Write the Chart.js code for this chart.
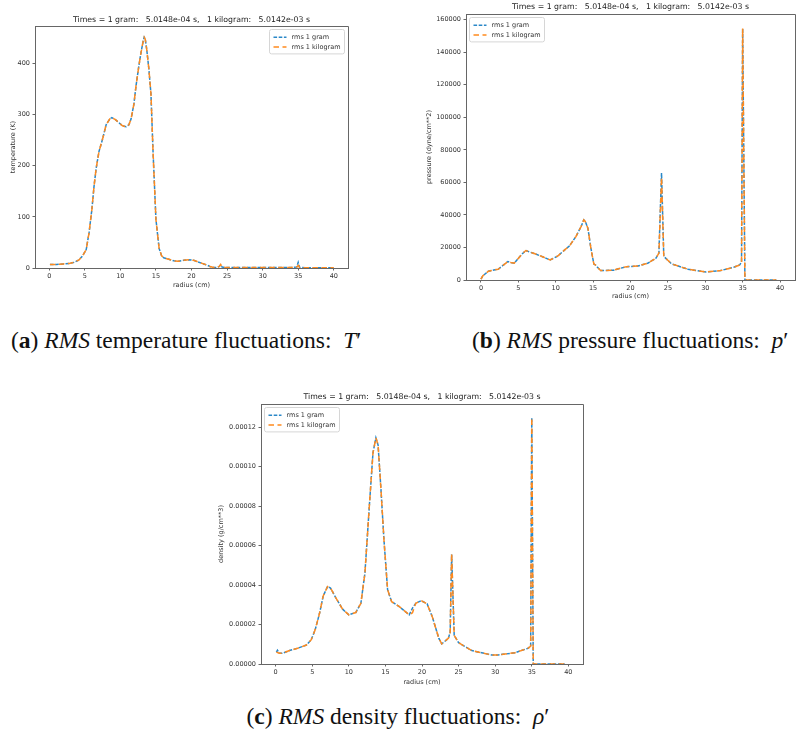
<!DOCTYPE html>
<html>
<head>
<meta charset="utf-8">
<script src="https://cdn.jsdelivr.net/npm/chart.js@4.4.0/dist/chart.umd.min.js"></script>
<style>
    body { margin: 0; background: #fff; }
    #page { position: relative; width: 796px; height: 742px; overflow: hidden; background: #fff; }
    canvas { position: absolute; }
    .caption {
        position: absolute;
        font-family: "Liberation Serif", "DejaVu Serif", serif;
        font-size: 23.5px;
        line-height: 24px;
        color: #111;
        white-space: nowrap;
    }
</style>
</head>
<body>
<div id="page">
    <canvas id="temperature-chart" width="400" height="300" style="left:0px;top:0px"></canvas>
    <canvas id="pressure-chart" width="396" height="300" style="left:400px;top:0px"></canvas>
    <canvas id="density-chart" width="400" height="310" style="left:200px;top:380px"></canvas>
    <div class="caption" style="left:11px;top:328px">(<b>a</b>) <i>RMS</i> temperature fluctuations:&nbsp; <i>T</i>′</div>
    <div class="caption" style="left:472px;top:328px">(<b>b</b>) <i>RMS</i> pressure fluctuations:&nbsp; <i>p</i>′</div>
    <div class="caption" style="left:398px;top:704px;transform:translateX(-50%)">(<b>c</b>) <i>RMS</i> density fluctuations:&nbsp; <i>ρ</i>′</div>
</div>
<script>
const timesTitle = "Times = 1 gram:   5.0148e-04 s,   1 kilogram:   5.0142e-03 s";
const seriesLabels = ["rms 1 gram", "rms 1 kilogram"];
const radiusTicks = [0, 5, 10, 15, 20, 25, 30, 35, 40];

// temperature (K)
const tempRadius = [0.1, 1.0, 2.0, 2.8, 3.5, 4.2, 4.7, 5.2, 5.6, 6.0, 6.3, 6.6, 7.0, 7.5, 8.0, 8.5, 8.8, 9.3, 9.8, 10.3, 10.8, 11.2, 11.5, 11.9, 12.2, 12.6, 12.9, 13.2, 13.35, 13.5, 13.7, 14.0, 14.3, 14.6, 15.0, 15.45, 15.8, 16.1, 16.8, 17.5, 18.2, 18.9, 19.6, 20.3, 20.9, 21.5, 22.1, 22.6, 23.1, 23.6, 23.9, 24.1, 24.3, 24.7, 26.0, 30.0, 34.0, 34.8, 35.0, 35.2, 36.0, 40.0];
const tempGram = [7, 7, 8, 9, 11, 16, 24, 36, 69, 115, 160, 195, 228, 252, 280, 291, 294, 290, 284, 278, 276, 280, 291, 320, 356, 395, 421, 443, 451, 447, 428, 390, 340, 225, 95, 38, 24, 20, 17, 14, 13, 15, 16, 15, 12, 9, 6, 3, 1, 1, 3, 6, 2, 1, 1, 1, 1, 2, 11, 1, 0.5, 0.5];
const tempKilogram = [7, 7, 8, 9, 11, 16, 24, 36, 69, 115, 160, 195, 228, 252, 280, 291, 294, 290, 284, 278, 276, 280, 291, 320, 356, 395, 421, 443, 451, 447, 428, 390, 340, 225, 95, 38, 24, 20, 17, 14, 13, 15, 16, 15, 12, 9, 6, 3, 1, 1, 3, 7, 2, 1, 1, 1, 1, 2, 5, 1, 0.5, 0.5];
const tempTicks = [0, 100, 200, 300, 400];

// pressure (dyne/cm**2)
const presRadius = [0.0, 0.25, 0.55, 1.0, 1.5, 2.3, 3.0, 3.6, 4.0, 4.45, 4.9, 5.5, 6.0, 6.5, 7.3, 8.4, 9.25, 10.3, 11.2, 11.85, 12.7, 13.4, 13.75, 13.95, 14.3, 14.7, 15.1, 15.3, 15.55, 16.0, 17.7, 19.45, 21.0, 22.3, 23.4, 23.8, 24.15, 24.45, 25.5, 27.7, 30.1, 32.05, 33.8, 34.6, 34.85, 35.0, 35.3, 39.5];
const presGram = [500, 2600, 3700, 5400, 5900, 6600, 9200, 11300, 10800, 10300, 12800, 16000, 18100, 17200, 16000, 14000, 12300, 14800, 18500, 21000, 26700, 32900, 37000, 36000, 31900, 19600, 9800, 9300, 8000, 5800, 6000, 8200, 8600, 10300, 13400, 16500, 65800, 14500, 9900, 6600, 4900, 5800, 7800, 9250, 11000, 154700, 0, 0];
const presKilogram = [500, 2600, 3700, 5400, 5900, 6600, 9200, 11300, 10800, 10300, 12800, 16000, 18100, 17200, 16000, 14000, 12300, 14800, 18500, 21000, 26700, 32900, 37000, 36000, 31900, 19600, 9800, 9300, 8000, 5800, 6000, 8200, 8600, 10300, 13400, 16500, 63000, 14500, 9900, 6600, 4900, 5800, 7800, 9250, 11000, 154700, 0, 0];
const presTicks = [0, 20000, 40000, 60000, 80000, 100000, 120000, 140000, 160000];

// density (g/cm**3)
const densRadius = [0.1, 0.25, 0.5, 0.9, 1.9, 3.0, 4.2, 4.85, 5.4, 6.0, 6.5, 7.1, 7.5, 8.25, 9.15, 10.0, 10.95, 11.65, 12.2, 12.8, 13.3, 13.7, 14.0, 14.4, 14.8, 15.3, 15.85, 16.9, 18.25, 18.7, 19.15, 19.9, 20.7, 21.4, 22.3, 22.7, 23.6, 23.85, 24.05, 24.4, 25.0, 26.8, 29.5, 30.4, 32.7, 34.5, 34.85, 35.0, 35.2, 39.5];
const densGram = [6.0e-6, 7.0e-6, 5.5e-6, 5.4e-6, 6.8e-6, 8.0e-6, 9.6e-6, 1.22e-5, 1.73e-5, 2.57e-5, 3.45e-5, 3.93e-5, 3.85e-5, 3.34e-5, 2.78e-5, 2.49e-5, 2.61e-5, 3.08e-5, 4.6e-5, 7.99e-5, 1.07e-4, 1.146e-4, 1.11e-4, 8.8e-5, 6.3e-5, 3.76e-5, 3.16e-5, 2.91e-5, 2.49e-5, 2.83e-5, 3.08e-5, 3.21e-5, 3.05e-5, 2.4e-5, 1.3e-5, 1.02e-5, 1.3e-5, 1.6e-5, 5.55e-5, 1.45e-5, 1.08e-5, 6.8e-6, 4.6e-6, 4.6e-6, 5.7e-6, 8.0e-6, 9.0e-6, 1.248e-4, 0, 0];
const densKilogram = [6.0e-6, 5.8e-6, 5.5e-6, 5.4e-6, 6.8e-6, 8.0e-6, 9.6e-6, 1.22e-5, 1.73e-5, 2.57e-5, 3.45e-5, 3.93e-5, 3.85e-5, 3.34e-5, 2.78e-5, 2.49e-5, 2.61e-5, 3.08e-5, 4.6e-5, 7.99e-5, 1.07e-4, 1.146e-4, 1.11e-4, 8.8e-5, 6.3e-5, 3.76e-5, 3.16e-5, 2.91e-5, 2.49e-5, 2.6e-5, 3.08e-5, 3.21e-5, 3.05e-5, 2.4e-5, 1.3e-5, 1.02e-5, 1.3e-5, 1.6e-5, 5.6e-5, 1.45e-5, 1.08e-5, 6.8e-6, 4.6e-6, 4.6e-6, 5.7e-6, 8.0e-6, 9.0e-6, 1.248e-4, 0, 0];
const densTicks = [0, 0.00002, 0.00004, 0.00006, 0.00008, 0.0001, 0.00012];

const gramColor = "#2a88c8";
const kilogramColor = "#ff8a1e";
const axisColor = "#666";
const textColor = "#333";

Chart.defaults.font.family = "'DejaVu Sans', sans-serif";
Chart.defaults.color = textColor;

// matplotlib style box: top and right spines
const axesFrame = {
    id: "axesFrame",
    afterDraw(chart){
        const {ctx, chartArea} = chart;
        ctx.save();
        ctx.strokeStyle = axisColor;
        ctx.lineWidth = 1;
        ctx.beginPath();
        ctx.moveTo(chartArea.left, chartArea.top + 0.5);
        ctx.lineTo(chartArea.right + 0.5, chartArea.top + 0.5);
        ctx.lineTo(chartArea.right + 0.5, chartArea.bottom);
        ctx.stroke();
        ctx.restore();
    }
};

// legend drawn inside the axes with a light frame
const legendFrame = {
    id: "legendFrame",
    afterDatasetsDraw(chart, args, opts){
        const {ctx, chartArea} = chart;
        const datasets = chart.data.datasets;
        const rowHeight = 9.7;
        const sampleLength = 13;
        ctx.save();
        ctx.font = "6.5px 'DejaVu Sans'";
        const textWidth = Math.max(...datasets.map(d => ctx.measureText(d.label).width));
        const w = 4 + sampleLength + 5 + textWidth + 4;
        const h = 5 + datasets.length * rowHeight;
        const x = opts.corner === "right" ? chartArea.right - 3.5 - w : chartArea.left + 3.5;
        const y = chartArea.top + 3.5;

        ctx.beginPath();
        ctx.roundRect(x, y, w, h, 2);
        ctx.fillStyle = "rgba(255,255,255,0.85)";
        ctx.fill();
        ctx.strokeStyle = "#d6d6d6";
        ctx.lineWidth = 1;
        ctx.stroke();

        datasets.forEach((d, i) => {
            const rowY = y + 3 + rowHeight / 2 + i * rowHeight;
            ctx.strokeStyle = d.borderColor;
            ctx.lineWidth = d.borderWidth;
            ctx.setLineDash(d.borderDash);
            ctx.beginPath();
            ctx.moveTo(x + 4, rowY);
            ctx.lineTo(x + 4 + sampleLength, rowY);
            ctx.stroke();
            ctx.setLineDash([]);
            ctx.fillStyle = textColor;
            ctx.textBaseline = "middle";
            ctx.fillText(d.label, x + 4 + sampleLength + 5, rowY);
        });
        ctx.restore();
    }
};

function toPoints(xs, ys){
    return xs.map((x, i) => ({x: x, y: ys[i]}));
}

function makeChart(canvas, cfg){
    const W = canvas.width;
    const H = canvas.height;
    const titleSize = 7.8;
    const labelSize = 6.5;
    const titleTop = cfg.titleCenter - titleSize * 1.2 / 2;
    const titleBottom = cfg.area.top - titleTop - titleSize * 1.2;

    const datasets = [
        {
            label: seriesLabels[0],
            data: toPoints(cfg.radius, cfg.gram),
            borderColor: gramColor,
            borderWidth: 1.5,
            borderDash: [3.6, 1.6],
            order: 1,
        },
        {
            label: seriesLabels[1],
            data: toPoints(cfg.radius, cfg.kilogram),
            borderColor: kilogramColor,
            borderWidth: 1.5,
            borderDash: [5.5, 3.5],
            order: 0,
        }
    ];
    datasets.forEach(d => {
        d.fill = false;
        d.tension = 0;
        d.pointRadius = 0;
        d.pointHoverRadius = 0;
    });

    return new Chart(canvas, {
        type: "line",
        data: {datasets: datasets},
        options: {
            responsive: false,
            animation: false,
            devicePixelRatio: 1,
            events: [],
            layout: {
                padding: {left: 0, top: 0, right: W - cfg.area.right, bottom: 0}
            },
            scales: {
                x: {
                    type: "linear",
                    min: -2,
                    max: 42,
                    afterBuildTicks: (scale) => { scale.ticks = radiusTicks.map(v => ({value: v})); },
                    afterFit: (scale) => { scale.height = H - cfg.area.bottom; },
                    ticks: {font: {size: labelSize}, padding: 2, maxRotation: 0, color: textColor},
                    grid: {display: true, drawOnChartArea: false, drawTicks: true, tickLength: 2.5, color: axisColor},
                    border: {display: true, color: axisColor, width: 1},
                    title: {
                        display: true,
                        text: "radius (cm)",
                        font: {size: labelSize, lineHeight: 1.2},
                        color: textColor,
                        padding: {top: 0, bottom: Math.max(0, H - cfg.xLabelCenter - labelSize * 0.6)}
                    }
                },
                y: {
                    type: "linear",
                    min: 0,
                    max: cfg.yMax,
                    afterBuildTicks: (scale) => { scale.ticks = cfg.yTicks.map(v => ({value: v})); },
                    afterFit: (scale) => { scale.width = cfg.area.left; },
                    ticks: {font: {size: labelSize}, padding: 2.5, color: textColor, callback: cfg.yFormat},
                    grid: {display: true, drawOnChartArea: false, drawTicks: true, tickLength: 2.5, color: axisColor},
                    border: {display: true, color: axisColor, width: 1},
                    title: {
                        display: true,
                        text: cfg.yLabel,
                        font: {size: labelSize, lineHeight: 1.2},
                        color: textColor,
                        padding: {top: cfg.yLabelCenter - labelSize * 0.6, bottom: 0}
                    }
                }
            },
            plugins: {
                legend: {display: false},
                tooltip: {enabled: false},
                title: {
                    display: true,
                    text: timesTitle,
                    fullSize: false,
                    color: "#222",
                    font: {size: titleSize, weight: "normal", lineHeight: 1.2},
                    padding: {top: titleTop, bottom: titleBottom}
                },
                legendFrame: {corner: cfg.legendCorner}
            }
        },
        plugins: [axesFrame, legendFrame]
    });
}

makeChart(document.getElementById("temperature-chart"), {
    radius: tempRadius, gram: tempGram, kilogram: tempKilogram,
    yTicks: tempTicks, yMax: 473,
    yLabel: "temperature (K)",
    yFormat: (v) => String(v),
    area: {left: 35, right: 348, top: 26, bottom: 268},
    titleCenter: 20, xLabelCenter: 285, yLabelCenter: 13,
    legendCorner: "right"
});

makeChart(document.getElementById("pressure-chart"), {
    radius: presRadius, gram: presGram, kilogram: presKilogram,
    yTicks: presTicks, yMax: 163500,
    yLabel: "pressure (dyne/cm**2)",
    yFormat: (v) => String(v),
    area: {left: 66, right: 395, top: 14, bottom: 280},
    titleCenter: 7, xLabelCenter: 297, yLabelCenter: 29,
    legendCorner: "left"
});

makeChart(document.getElementById("density-chart"), {
    radius: densRadius, gram: densGram, kilogram: densKilogram,
    yTicks: densTicks, yMax: 0.0001318,
    yLabel: "density (g/cm**3)",
    yFormat: (v) => v.toFixed(5),
    area: {left: 61, right: 383, top: 24, bottom: 284},
    titleCenter: 17, xLabelCenter: 302, yLabelCenter: 21,
    legendCorner: "left"
});
</script>
</body>
</html>
